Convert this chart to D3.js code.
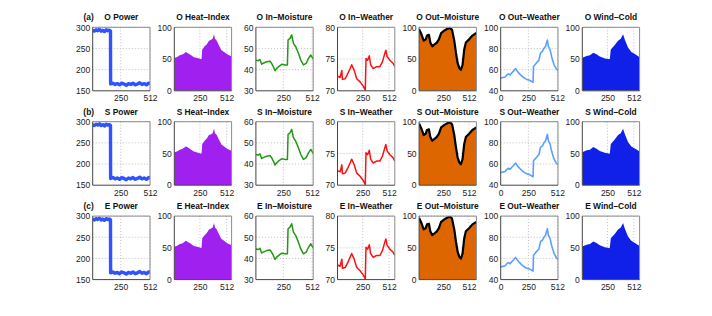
<!DOCTYPE html>
<html>
<head>
<meta charset="utf-8">
<script src="https://cdn.jsdelivr.net/npm/d3@7"></script>
<style>
body { margin: 0; background: #fff; }
svg { display: block; font-family: "Liberation Sans", Arial, Helvetica, sans-serif; }
.tick text { font-size: 8.5px; fill: #222; }
.title { font-size: 8.4px; font-weight: bold; fill: #111; }
.grid line { stroke: #b0b0b0; stroke-width: 0.8; stroke-dasharray: 1, 2; }
</style>
</head>
<body>
<svg id="chart" width="712" height="316"></svg>
<script>
/* three rows of the same seven signals: O, S, E */
var rowPrefixes = ["O", "S", "E"],
    rowTags = ["(a)", "(b)", "(c)"];

var panelNames = ["Power", "Heat\u2013Index", "In\u2013Moisture", "In\u2013Weather",
                  "Out\u2013Moisture", "Out\u2013Weather", "Wind\u2013Cold"];

/* series as [sample, value] pairs */
var power = [[0, 293], [15, 291], [30, 294], [45, 292], [60, 295], [75, 291], [90, 293],
    [105, 290], [120, 294], [135, 292], [150, 293], [159, 291], [160, 166], [180, 168],
    [200, 165], [220, 167], [240, 164], [260, 168], [280, 166], [300, 163], [320, 167],
    [340, 165], [360, 168], [380, 164], [400, 166], [420, 169], [440, 165], [460, 167],
    [480, 164], [500, 168], [512, 166]];

var heatIndex = [[0, 52], [26, 53], [53, 56], [76, 57], [92, 58.5], [112, 61], [125, 60],
    [141, 58.5], [165, 56], [191, 53], [224, 51.6], [250, 50.5], [266, 49.5], [273, 65],
    [296, 70], [316, 73], [339, 79], [355, 80], [375, 82], [388, 89], [398, 82], [415, 79],
    [438, 71], [461, 64], [487, 61], [520, 57], [563, 54]];

var inMoisture = [[0, 44.5], [21, 44.2], [37, 44.8], [52, 42.6], [67, 43], [98, 43.7],
    [128, 44], [143, 43], [159, 41.4], [174, 39.5], [189, 40.6], [214, 41.7], [235, 42.5],
    [265, 42.2], [287, 42.2], [293, 54], [311, 54.8], [326, 56.4], [342, 52.4], [363, 50.8],
    [387, 47.7], [409, 44.5], [433, 42.2], [458, 43], [479, 45.3], [500, 46.9], [525, 44.8]];

var inWeather = [[0, 72.3], [26, 72.1], [43, 73.2], [49, 71.8], [76, 71.9], [99, 72.6],
    [125, 73.5], [141, 74.1], [164, 73.3], [191, 71.9], [224, 71.4], [257, 70.7], [276, 70.1],
    [283, 75.1], [299, 74.8], [316, 75.5], [329, 74.1], [355, 73.5], [388, 73.8], [421, 73.8],
    [447, 74.6], [470, 75.9], [480, 76.4], [493, 75.4], [520, 74.8], [553, 74.3], [569, 73.8]];

var outMoisture = [[0, 97], [24, 89], [47, 79], [68, 81], [81, 87], [101, 88], [115, 76],
    [135, 70], [159, 73], [182, 76], [203, 81], [226, 91], [260, 95], [294, 98], [318, 99],
    [338, 96], [361, 79], [378, 60], [395, 44], [412, 36], [429, 33], [446, 41], [463, 65],
    [480, 76], [513, 81], [547, 87], [588, 91]];

var outWeather = [[0, 52], [20, 52.5], [40, 53], [55, 55], [70, 56], [85, 55], [100, 57],
    [120, 59], [135, 61], [150, 58.5], [170, 56], [200, 53], [230, 51], [260, 50], [285, 48.5],
    [292, 48], [296, 63], [320, 66], [345, 69], [360, 76], [375, 77], [390, 80], [405, 82],
    [415, 86], [421, 88], [430, 82], [445, 79], [460, 72], [480, 65], [500, 61], [517, 59]];

var windCold = [[0, 52], [43, 55], [76, 56], [109, 60], [141, 57.5], [174, 54], [224, 51],
    [273, 49.5], [283, 65], [322, 72], [355, 79], [382, 82], [405, 89], [421, 81], [454, 68],
    [487, 61], [530, 57], [569, 53]];

var series = [power, heatIndex, inMoisture, inWeather, outMoisture, outWeather, windCold];

var yDomains = [[150, 300], [0, 100], [30, 60], [70, 80], [0, 100], [40, 100], [0, 100]];
var yTicks = [[150, 200, 250, 300], [0, 50, 100], [30, 40, 50, 60], [70, 75, 80],
              [0, 50, 100], [40, 60, 80, 100], [0, 50, 100]];
var xMax = [512, 560, 522, 569, 588, 517, 569];
var xTicks = [[250, 512], [250, 512], [250, 512], [250, 512], [250, 512], [0, 250, 512], [250, 512]];

/* how each panel is drawn: line, filled area, or area with an outline */
var kinds = ["line", "area", "line", "line", "areaLine", "line", "area"];
var colors = ["#2f54ff", "#a020f0", "#1f9a12", "#ff1010", "#de6600", "#5aa0ff", "#1020e8"];
var lineWidths = [3.4, 0, 1.5, 1.5, 2.2, 1.6, 0];

/* layout, in pixels */
var colLeft = 92.7, colStep = 81.6, panelW = 57.3,
    rowTop = 27.3, rowStep = 94.4, panelH = 63.5;

function translate(x, y) {
    return "translate(" + x + "," + y + ")";
}

var svg = d3.select("#chart");

rowPrefixes.forEach(function(prefix, r) {
    series.forEach(function(data, c) {
        var x0 = colLeft + c * colStep,
            y0 = rowTop + r * rowStep;

        var x = d3.scaleLinear().domain([0, xMax[c]]).range([0, panelW]);
        var y = d3.scaleLinear().domain(yDomains[c]).range([panelH, 0]);

        var g = svg.append("g").attr("transform", translate(x0, y0));

        /* dotted grid, behind the data */
        var grid = g.append("g").attr("class", "grid");
        grid.selectAll(".gx")
            .data(xTicks[c].filter(function(t) { return t > 0; }))
          .enter().append("line")
            .attr("x1", function(d) { return x(d); }).attr("x2", function(d) { return x(d); })
            .attr("y1", 0).attr("y2", panelH);
        grid.selectAll(".gy")
            .data(yTicks[c].slice(1))
          .enter().append("line")
            .attr("x1", 0).attr("x2", panelW)
            .attr("y1", function(d) { return y(d); }).attr("y2", function(d) { return y(d); });

        var clip = "clip-" + r + "-" + c;
        g.append("clipPath").attr("id", clip)
          .append("rect").attr("width", panelW).attr("height", panelH);
        var plot = g.append("g").attr("clip-path", "url(#" + clip + ")");

        var line = d3.line()
            .x(function(d) { return x(d[0]); })
            .y(function(d) { return y(d[1]); });
        var area = d3.area()
            .x(function(d) { return x(d[0]); })
            .y0(y(yDomains[c][0]))
            .y1(function(d) { return y(d[1]); });

        if (kinds[c] !== "line") {
            plot.append("path").datum(data)
                .attr("d", area)
                .attr("fill", colors[c]);
        }
        if (kinds[c] !== "area") {
            plot.append("path").datum(data)
                .attr("d", line)
                .attr("fill", "none")
                .attr("stroke", kinds[c] === "areaLine" ? "#000" : colors[c])
                .attr("stroke-width", lineWidths[c])
                .attr("stroke-linejoin", "round");
        }

        /* axes: labels only, ticks are hidden */
        g.append("g")
            .call(d3.axisLeft(y).tickValues(yTicks[c]).tickSize(0).tickPadding(2.5))
            .call(function(s) { s.select(".domain").remove(); });
        g.append("g")
            .attr("transform", translate(0, panelH))
            .call(d3.axisBottom(x).tickValues(xTicks[c]).tickSize(0).tickPadding(4.5))
            .call(function(s) { s.select(".domain").remove(); });

        /* box: light top/right, darker left/bottom */
        g.append("path")
            .attr("d", "M0,0H" + panelW + "V" + panelH)
            .attr("fill", "none").attr("stroke", "#8a8a8a").attr("stroke-width", 1);
        g.append("path")
            .attr("d", "M0,0V" + panelH + "H" + panelW)
            .attr("fill", "none").attr("stroke", "#444").attr("stroke-width", 1);

        g.append("text")
            .attr("class", "title")
            .attr("x", panelW / 2)
            .attr("y", -7)
            .attr("text-anchor", "middle")
            .text(prefix + " " + panelNames[c]);

        if (c === 0) {
            g.append("text")
                .attr("class", "title")
                .attr("x", -4)
                .attr("y", -7)
                .attr("text-anchor", "middle")
                .text(rowTags[r]);
        }
    });
});
</script>
</body>
</html>
